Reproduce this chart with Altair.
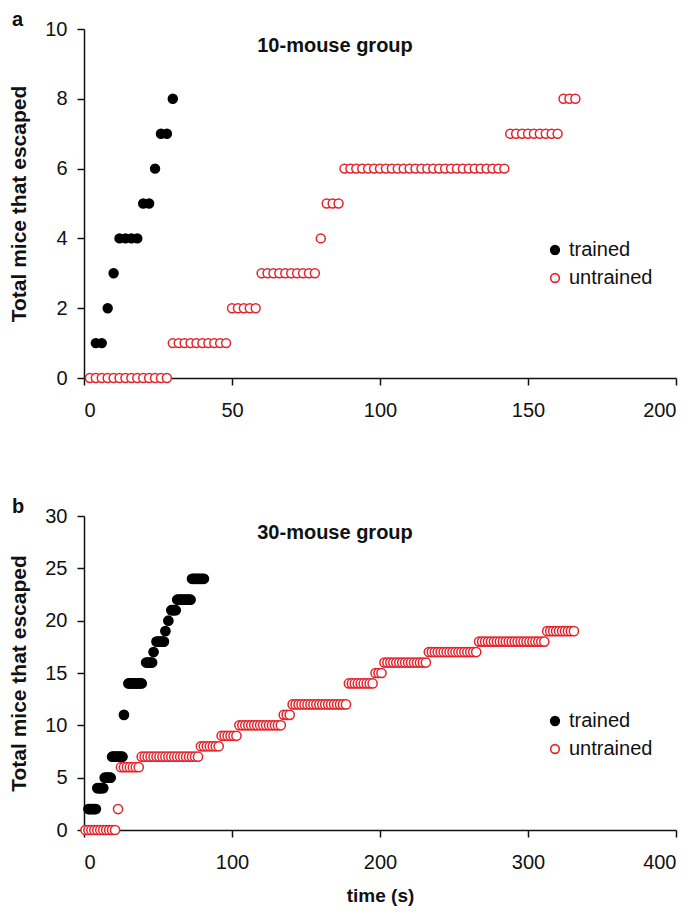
import altair as alt
import pandas as pd

RED = "#e3222b"
FONT = "Liberation Sans"

# ---------------- Panel a: 10-mouse group ----------------
a_trained_levels = [1, 2, 3, 4, 5, 6, 7, 8]
a_trained_times = [[4, 6], [8], [10], [12, 14, 16, 18], [20, 22], [24], [26, 28], [30]]

a_untrained_levels = [0, 1, 2, 3, 4, 5, 6, 7, 8]
a_untrained_times = [
    [2, 4, 6, 8, 10, 12, 14, 16, 18, 20, 22, 24, 26, 28],
    [30, 32, 34, 36, 38, 40, 42, 44, 46, 48],
    [50, 52, 54, 56, 58],
    [60, 62, 64, 66, 68, 70, 72, 74, 76, 78],
    [80],
    [82, 84, 86],
    [88, 90, 92, 94, 96, 98, 100, 102, 104, 106, 108, 110, 112, 114, 116, 118,
     120, 122, 124, 126, 128, 130, 132, 134, 136, 138, 140, 142],
    [144, 146, 148, 150, 152, 154, 156, 158, 160],
    [162, 164, 166],
]

# ---------------- Panel b: 30-mouse group ----------------
b_trained_levels = [2, 4, 5, 7, 11, 14, 16, 17, 18, 19, 20, 21, 22, 24]
b_trained_times = [
    [3, 4, 5, 6, 7, 8],
    [9, 10, 11, 12, 13],
    [14, 15, 16, 17, 18],
    [19, 20, 21, 22, 23, 24, 25, 26],
    [27],
    [30, 31, 32, 33, 34, 35, 36, 37, 38, 39],
    [42, 43, 44, 45, 46],
    [47],
    [49, 50, 51, 52, 53, 54],
    [55],
    [57],
    [59, 60, 61, 62],
    [63, 64, 65, 66, 67, 68, 69, 70, 71, 72],
    [73, 74, 75, 76, 77, 78, 79, 80, 81],
]

b_untrained_levels = [0, 2, 6, 7, 8, 9, 10, 11, 12, 14, 15, 16, 17, 18, 19]
b_untrained_times = [
    [1, 3, 5, 7, 9, 11, 13, 15, 17, 19, 21],
    [23],
    [25, 27, 29, 31, 33, 35, 37],
    [39, 41, 43, 45, 47, 49, 51, 53, 55, 57, 59, 61, 63, 65, 67, 69, 71, 73, 75, 77],
    [79, 81, 83, 85, 87, 89, 91],
    [93, 95, 97, 99, 101, 103],
    [105, 107, 109, 111, 113, 115, 117, 119, 121, 123, 125, 127, 129, 131, 133],
    [135, 137, 139],
    [141, 143, 145, 147, 149, 151, 153, 155, 157, 159, 161, 163, 165, 167, 169,
     171, 173, 175, 177],
    [179, 181, 183, 185, 187, 189, 191, 193, 195],
    [197, 199, 201],
    [203, 205, 207, 209, 211, 213, 215, 217, 219, 221, 223, 225, 227, 229, 231],
    [233, 235, 237, 239, 241, 243, 245, 247, 249, 251, 253, 255, 257, 259, 261, 263, 265],
    [267, 269, 271, 273, 275, 277, 279, 281, 283, 285, 287, 289, 291, 293, 295, 297,
     299, 301, 303, 305, 307, 309, 311],
    [313, 315, 317, 319, 321, 323, 325, 327, 329, 331],
]

groups = ["trained", "untrained"]


def build(levels_u, times_u, levels_t, times_t):
    rows = []
    for lv, ts in zip(levels_u, times_u):
        for t in ts:
            rows.append({"time": t, "count": lv, "group": "untrained"})
    for lv, ts in zip(levels_t, times_t):
        for t in ts:
            rows.append({"time": t, "count": lv, "group": "trained"})
    return pd.DataFrame(rows)


df_a = build(a_untrained_levels, a_untrained_times, a_trained_levels, a_trained_times)
df_b = build(b_untrained_levels, b_untrained_times, b_trained_levels, b_trained_times)


def panel(df, xmax, xstep, ymax, ystep, w, h, title, letter, lx, ly, xtitle, psize):
    leg = alt.Legend(
        title=None, orient="none", legendX=lx, legendY=ly,
        labelFont=FONT, labelFontSize=20, labelColor="#111",
        symbolSize=75, symbolStrokeWidth=1.6, rowPadding=8, labelOffset=4,
        symbolType="circle",
    )
    xaxis = alt.Axis(values=list(range(0, xmax + 1, xstep)), format="d",
                     labelPadding=15, titlePadding=14,
                     titleFont=FONT, titleFontSize=19, titleFontWeight="bold",
                     titleColor="#111")
    pts = alt.Chart(df).mark_point(filled=True, size=psize, strokeWidth=1.5, opacity=1).encode(
        x=alt.X("time:Q", scale=alt.Scale(domain=[0, xmax], nice=False),
                axis=xaxis, title=xtitle),
        y=alt.Y("count:Q", scale=alt.Scale(domain=[0, ymax], nice=False),
                axis=alt.Axis(values=list(range(0, ymax + 1, ystep)), format="d",
                              labelPadding=10, titlePadding=15,
                              titleFont=FONT, titleFontSize=21, titleFontWeight="bold",
                              titleColor="#111"),
                title="Total mice that escaped"),
        stroke=alt.Stroke("group:N", scale=alt.Scale(domain=groups, range=["#000000", RED]), legend=leg),
        fill=alt.Fill("group:N", scale=alt.Scale(domain=groups, range=["#000000", "#ffffff"]), legend=leg),
    )
    ttl = alt.Chart(pd.DataFrame({"t": [title]})).mark_text(
        font=FONT, fontSize=20, fontWeight="bold", align="center", baseline="alphabetic",
        color="#111"
    ).encode(x=alt.value(251), y=alt.value(23), text="t:N")
    let = alt.Chart(pd.DataFrame({"t": [letter]})).mark_text(
        font=FONT, fontSize=20, fontWeight="bold", align="left", baseline="alphabetic",
        color="#111"
    ).encode(x=alt.value(-72), y=alt.value(-3), text="t:N")
    return alt.layer(pts, ttl, let).properties(width=w, height=h)


pa = panel(df_a, 200, 50, 10, 2, 592, 349, "10-mouse group", "a", 461, 211, None, 80)
pb = panel(df_b, 400, 100, 30, 5, 592, 314, "30-mouse group", "b", 461, 195, "time (s)", 85)

chart = alt.vconcat(pa, pb, spacing=77).resolve_scale(
    x="independent", y="independent", stroke="independent", fill="independent"
).configure_axis(
    domainColor="#111", domainWidth=1.5, tickColor="#111", tickWidth=1.5, tickSize=7,
    labelFont=FONT, labelFontSize=20, labelColor="#111", grid=False,
).configure_view(stroke=None).properties(
    padding={"left": 0, "top": 2, "right": 5, "bottom": 5}
)

chart.save("out.html", embed_options={"renderer": "svg", "actions": False})
